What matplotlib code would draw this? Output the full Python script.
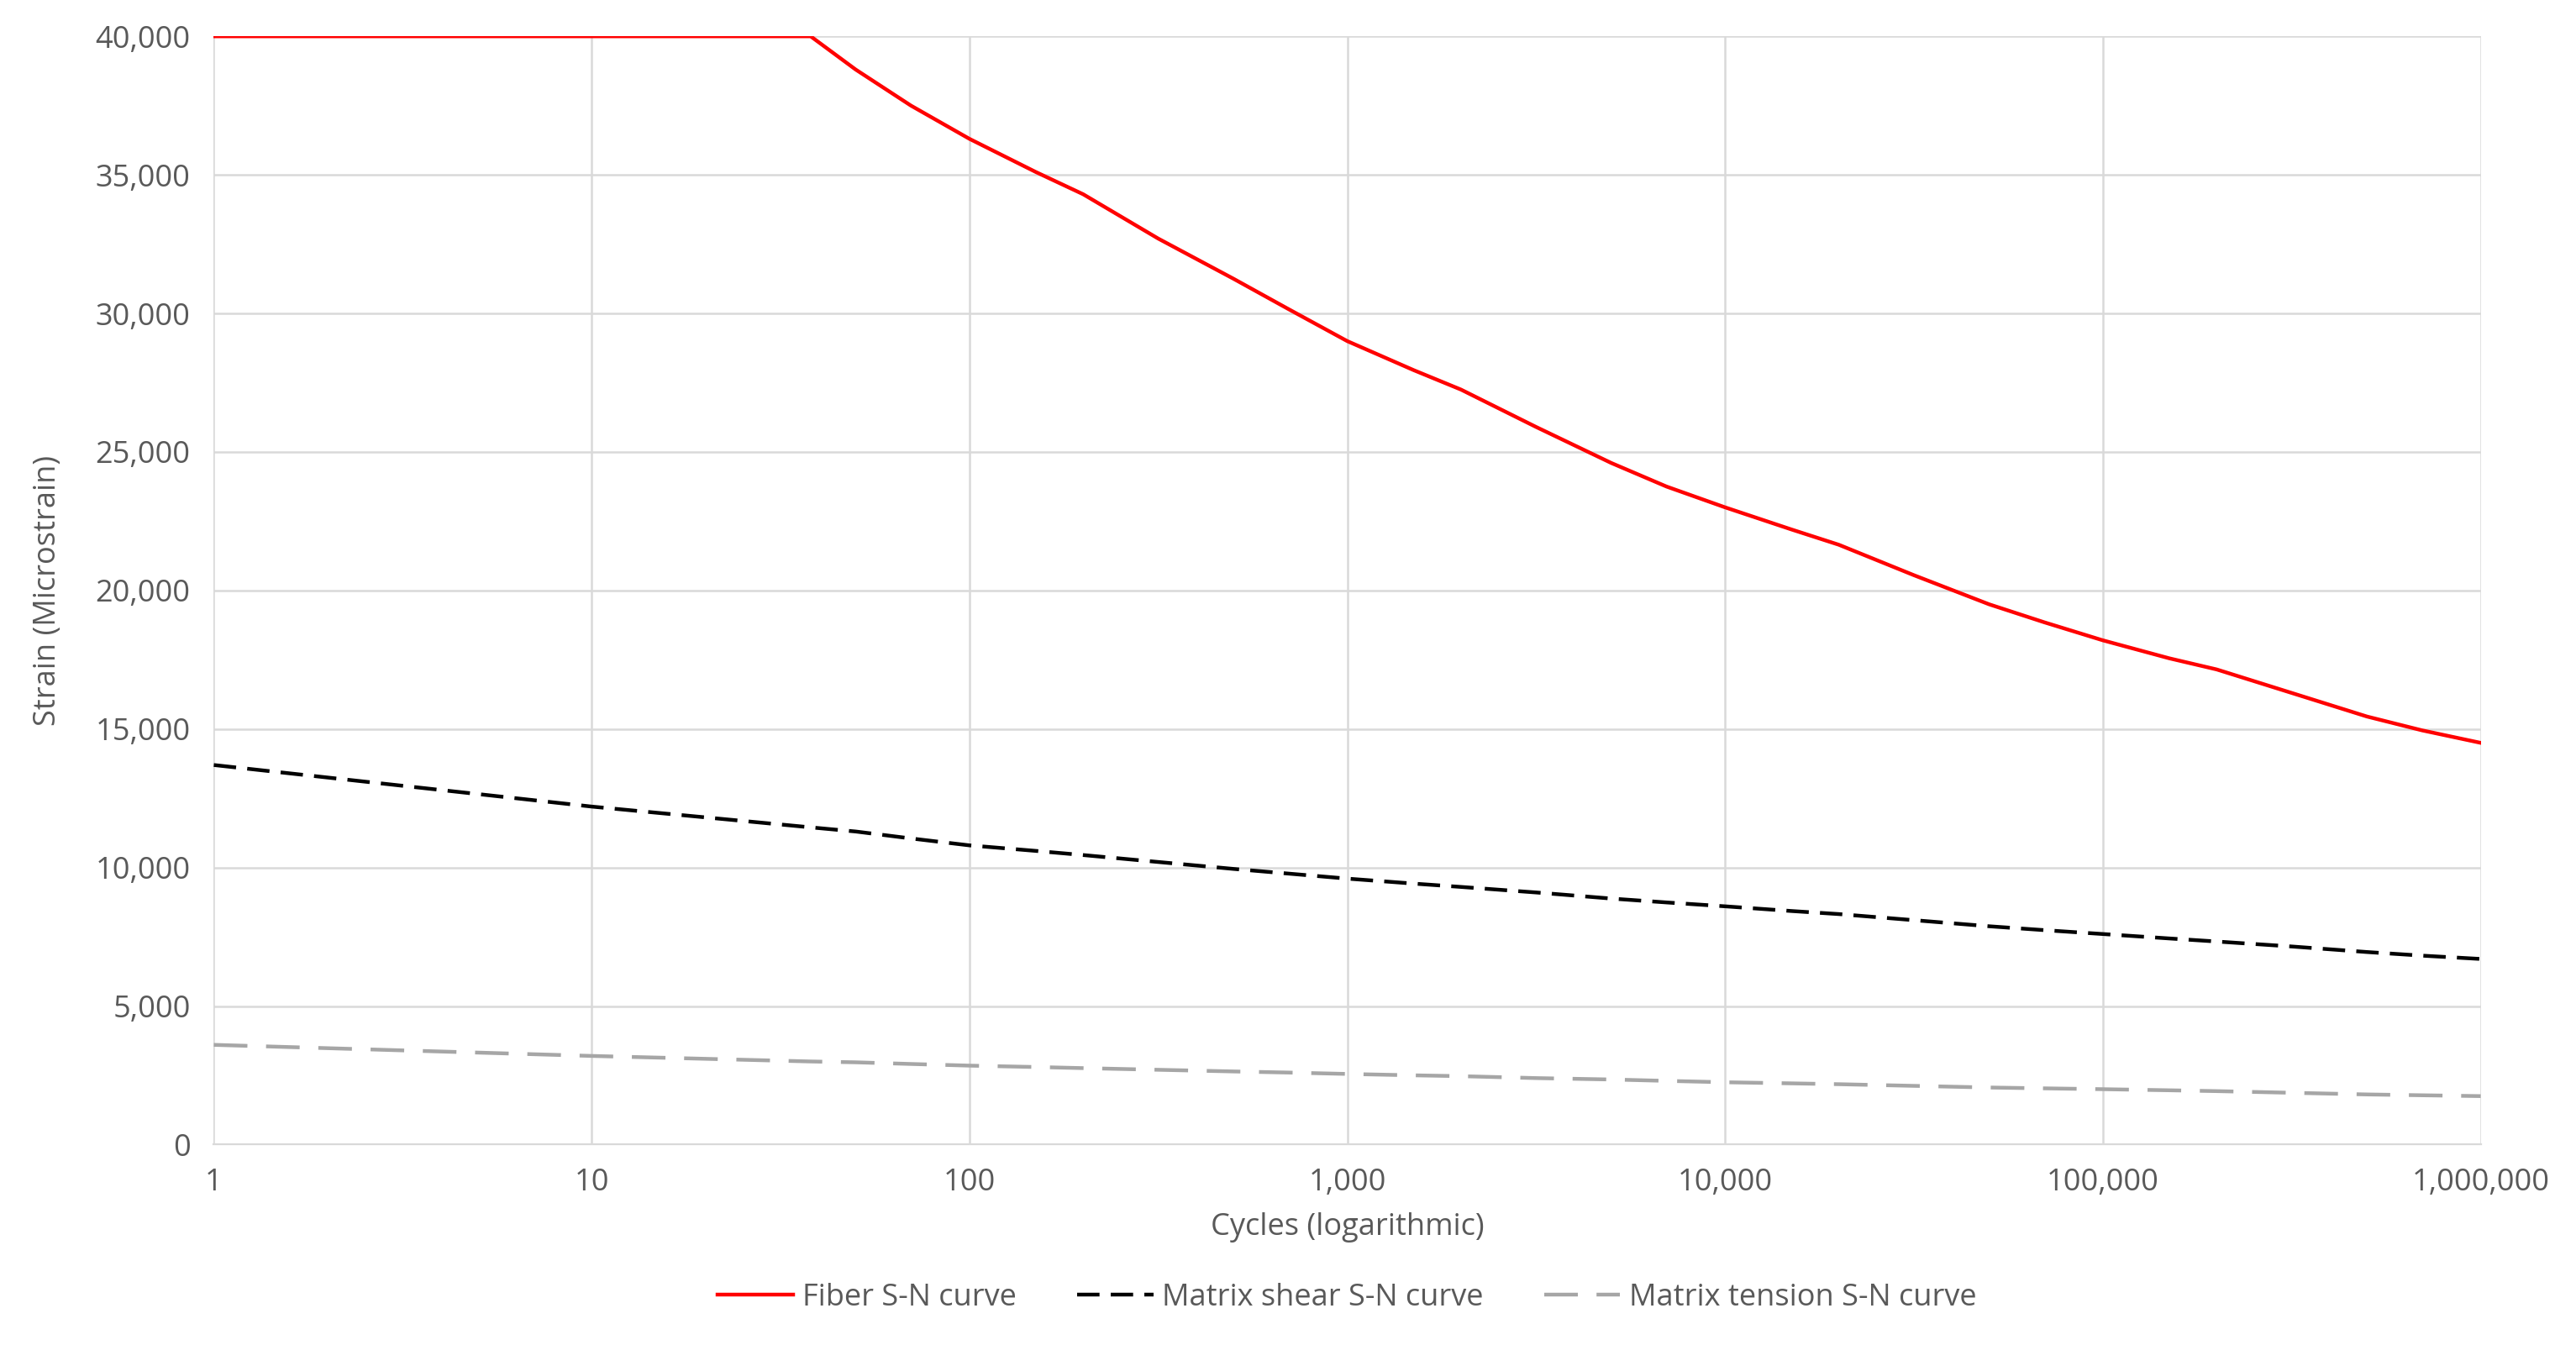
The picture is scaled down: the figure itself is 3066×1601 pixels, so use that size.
import matplotlib.pyplot as plt
from matplotlib.ticker import FuncFormatter, FixedLocator

plt.rcParams['font.family'] = ['Open Sans', 'DejaVu Sans']

cycles = [1, 10, 38, 50, 70, 100, 150, 200, 316, 500, 700, 1000, 1500, 2000, 3162, 5000, 7000,
          10000, 15000, 20000, 31623, 50000, 70000, 100000, 150000, 200000, 316228, 500000,
          700000, 1000000]
fiber = [40000, 40000, 40000, 38800, 37500, 36300, 35100, 34300, 32700, 31250, 30150, 29000,
         27950, 27250, 25900, 24600, 23750, 23000, 22200, 21650, 20550, 19500, 18850, 18200,
         17550, 17150, 16300, 15450, 14950, 14500]
shear = [13700, 12200, 11450, 11300, 11050, 10800, 10600, 10450, 10200, 9950, 9780, 9600,
         9420, 9300, 9100, 8880, 8740, 8600, 8430, 8320, 8100, 7880, 7740, 7600, 7440, 7330,
         7150, 6950, 6820, 6700]
tension = [3600, 3200, 3000, 2970, 2910, 2850, 2800, 2760, 2700, 2640, 2600, 2550, 2500,
           2470, 2400, 2350, 2300, 2250, 2210, 2180, 2120, 2060, 2030, 2000, 1960, 1930, 1870,
           1810, 1780, 1750]

fig = plt.figure(figsize=(15.33, 8.005), dpi=200)
ax = fig.add_axes([0.083, 0.149, 0.88, 0.824])

ax.plot(cycles, fiber, color='#ff0000', lw=1.6, label='Fiber S-N curve')
ax.plot(cycles, shear, color='black', lw=1.6, ls=(0, (6, 3)), label='Matrix shear S-N curve')
ax.plot(cycles, tension, color='#a6a6a6', lw=1.6, ls=(0, (9, 5)), label='Matrix tension S-N curve')

ax.set_xscale('log')
ax.set_xlim(1, 1e6)
ax.set_ylim(0, 40000)
ax.xaxis.set_major_locator(FixedLocator([10**i for i in range(7)]))
ax.xaxis.set_minor_locator(FixedLocator([]))
ax.yaxis.set_major_locator(FixedLocator(range(0, 40001, 5000)))
fmt = FuncFormatter(lambda v, p: f'{v:,.0f}')
ax.xaxis.set_major_formatter(fmt)
ax.yaxis.set_major_formatter(fmt)

ax.grid(True, color='#d9d9d9', lw=0.9)
ax.set_axisbelow(True)
for s in ['top', 'right', 'left']:
    ax.spines[s].set_visible(False)
ax.spines['bottom'].set_color('#d9d9d9')
ax.tick_params(length=0, labelsize=13, colors='#595959', pad=10)

ax.set_xlabel('Cycles (logarithmic)', fontsize=13, color='#595959', labelpad=6)
ax.set_ylabel('Strain (Microstrain)', fontsize=13, color='#595959', labelpad=14)

ax.legend(loc='upper center', bbox_to_anchor=(0.5, -0.1), ncol=3, frameon=False,
          fontsize=13, labelcolor='#595959', handlelength=2.5, handletextpad=0.3,
          columnspacing=2.0)

fig.savefig('out.png', dpi=200)
